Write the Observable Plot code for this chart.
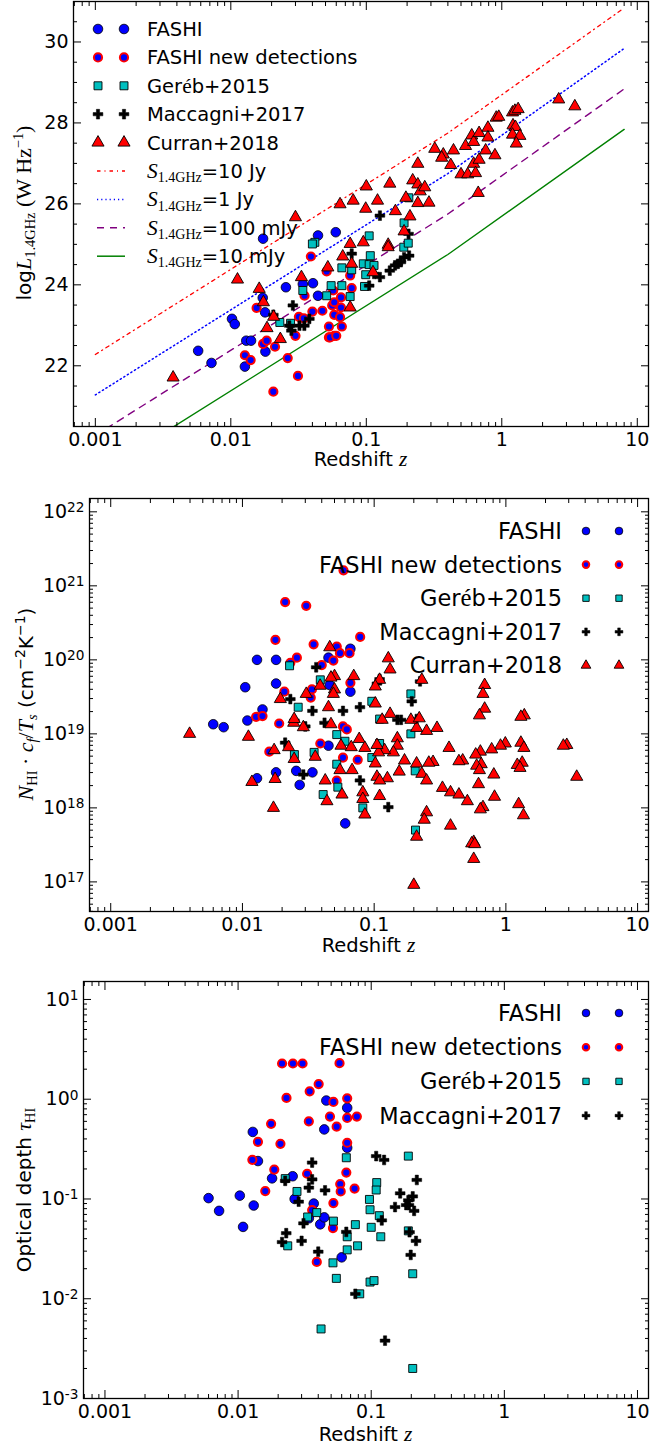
<!DOCTYPE html>
<html><head><meta charset="utf-8">
<script src="https://cdn.jsdelivr.net/npm/d3@7"></script>
<script src="https://cdn.jsdelivr.net/npm/@observablehq/plot@0.6"></script>
<style>body{margin:0;background:#fff}#root svg{display:block;overflow:visible}text{white-space:pre}</style>
</head><body><div id="root"></div>
<script>
// ---------- axis tick values / labels ----------
const xMajor = [0.001, 0.01, 0.1, 1, 10];
const xMajorLabels = ["0.001", "0.01", "0.1", "1", "10"];
const p1YMajor = [22, 24, 26, 28, 30];

// ---------- panel 1 : log L1.4GHz vs z ----------
const p1Fashi = [[0.00574,22.37],[0.0072,22.07],[0.0127,21.98],[0.0102,23.16],[0.0107,23.03],[0.013,22.62],[0.0141,22.62],[0.018,22.35],[0.0172,23.68],[0.0179,23.32],[0.0255,23.94],[0.034,24.02],[0.0404,24.04],[0.044,23.73],[0.0173,25.14],[0.044,25.22],[0.0595,25.30]];
const p1FashiNew = [[0.0206,21.36],[0.0313,21.75],[0.0263,22.19],[0.0212,22.47],[0.0127,22.26],[0.014,22.14],[0.0173,22.54],[0.0184,22.62],[0.0155,23.43],[0.039,24.70],[0.030,22.74],[0.0318,23.21],[0.0346,23.17],[0.040,23.34],[0.0474,23.36],[0.053,22.97],[0.053,22.70],[0.058,22.74],[0.051,24.33],[0.056,23.49],[0.058,23.26],[0.057,23.86],[0.054,22.70],[0.06,22.74],[0.066,22.97],[0.064,23.20],[0.065,23.44],[0.058,23.57],[0.065,23.69],[0.076,24.23],[0.078,23.92],[0.035,23.73]];
const p1Gereb = [[0.023,23.07],[0.0276,23.05],[0.051,23.73],[0.055,23.98],[0.034,23.86],[0.0417,25.05],[0.040,25.01],[0.066,24.42],[0.066,23.98],[0.076,23.71],[0.078,24.37],[0.095,24.52],[0.105,24.5],[0.114,24.48],[0.107,24.72],[0.099,24.25],[0.097,23.96],[0.189,24.93],[0.204,25.03],[0.206,26.15],[0.19,25.53],[0.105,25.21]];
const p1Macc = [[0.126,25.71],[0.205,25.26],[0.207,24.72],[0.19,24.68],[0.18,24.56],[0.171,24.52],[0.163,24.48],[0.149,24.35],[0.126,24.19],[0.105,23.98],[0.114,24.27],[0.078,24.77],[0.0206,23.26],[0.0287,23.49],[0.0321,22.99],[0.0349,22.99],[0.038,23.16],[0.028,22.87],[0.027,22.99]];
const p1Curran = [[0.00375,21.71],[0.0112,24.13],[0.0162,23.90],[0.0174,23.57],[0.0185,22.93],[0.0207,23.21],[0.0232,22.66],[0.030,25.67],[0.0332,24.19],[0.052,24.43],[0.064,25.99],[0.076,25.01],[0.080,26.08],[0.095,25.05],[0.099,25.88],[0.1,26.43],[0.121,26.08],[0.145,24.99],[0.149,26.50],[0.164,25.82],[0.19,25.32],[0.196,26.15],[0.21,25.69],[0.22,26.58],[0.24,26.48],[0.25,26.31],[0.27,26.41],[0.24,26.02],[0.29,26.03],[0.24,26.99],[0.32,27.36],[0.37,27.22],[0.36,27.14],[0.42,26.96],[0.44,27.32],[0.50,26.73],[0.54,27.43],[0.56,26.73],[0.60,27.69],[0.62,27.53],[0.62,26.99],[0.64,26.76],[0.67,26.27],[0.68,27.75],[0.68,27.09],[0.76,27.32],[0.79,27.88],[0.79,27.64],[0.89,27.20],[0.91,28.13],[0.95,28.15],[1.20,28.26],[1.25,28.30],[1.32,28.34],[1.21,27.94],[1.26,27.90],[1.20,27.71],[1.36,27.68],[1.28,27.49],[2.63,28.58],[3.46,28.41],[0.145,24.93],[0.067,24.70],[0.078,24.52],[0.076,23.44],[0.112,24.31]];

// flux-limit curves
const lineZ = [0.001, 0.4, 8];
const l10Jy = [22.28, 27.75, 30.84];
const l1Jy = [21.28, 26.75, 29.84];
const l100mJy = [20.28, 25.75, 28.84];
const l10mJy = [19.28, 24.75, 27.84];

// ---------- panel 2 : log N_HI c_f/T_s vs z ----------
const p2Fashi = [[0.0129,20.0],[0.018,20.0],[0.0105,19.63],[0.018,19.68],[0.0142,19.33],[0.0109,19.18],[0.0060,19.13],[0.0072,19.09],[0.045,20.03],[0.046,19.66],[0.0129,18.40],[0.018,18.48],[0.0256,18.50],[0.0272,18.31],[0.034,18.48],[0.045,18.84],[0.0603,17.79],[0.066,20.15],[0.066,19.57]];
const p2FashiNew = [[0.0211,20.78],[0.0305,20.73],[0.0178,20.27],[0.0347,20.21],[0.0259,20.03],[0.0231,19.96],[0.040,19.93],[0.049,19.99],[0.0208,19.57],[0.0337,19.60],[0.033,19.49],[0.052,20.18],[0.0127,19.23],[0.0142,19.24],[0.019,19.14],[0.0585,21.21],[0.0783,20.31],[0.055,20.09],[0.065,20.09],[0.066,19.69],[0.016,18.76],[0.039,18.87],[0.052,18.37],[0.058,18.68],[0.075,18.65],[0.058,19.10],[0.062,19.06]];
const p2Gereb = [[0.0228,19.92],[0.039,19.73],[0.0265,19.36],[0.19,19.54],[0.096,19.44],[0.11,19.2],[0.0248,18.72],[0.035,18.75],[0.041,18.18],[0.052,18.99],[0.052,18.59],[0.053,18.28],[0.082,18.0],[0.205,18.5],[0.206,17.70],[0.19,19.0],[0.11,18.87],[0.096,18.68],[0.06,18.9]];
const p2Macc = [[0.0363,19.90],[0.0231,19.47],[0.034,19.31],[0.0248,19.18],[0.11,19.74],[0.105,19.68],[0.223,19.71],[0.193,19.44],[0.078,19.36],[0.058,19.31],[0.15,19.19],[0.16,19.19],[0.21,19.2],[0.0211,18.88],[0.029,18.45],[0.078,18.37],[0.128,18.01],[0.03,19.1],[0.042,19.15]];
const p2Curran = [[2.90,18.85],[2.73,18.84],[3.45,18.42],[1.30,18.88],[1.37,18.81],[1.33,18.61],[1.22,18.58],[1.28,18.54],[1.25,18.05],[1.36,17.90],[0.99,18.87],[0.91,18.84],[0.78,18.79],[0.64,18.76],[0.59,18.72],[0.65,18.59],[0.60,18.57],[0.63,18.51],[0.81,18.45],[0.62,18.32],[0.82,18.15],[0.67,18.01],[0.64,17.98],[0.57,17.54],[0.55,17.52],[0.58,17.51],[0.57,17.31],[0.47,18.64],[0.44,18.63],[0.37,18.81],[0.33,18.27],[0.38,18.21],[0.44,18.18],[0.51,18.09],[0.38,17.76],[0.25,17.94],[0.24,17.84],[0.21,17.61],[0.20,16.96],[0.28,18.62],[0.26,18.61],[0.30,19.08],[0.25,19.04],[0.21,18.60],[0.23,18.46],[0.25,18.37],[0.21,19.08],[0.17,18.64],[0.155,18.49],[0.15,18.94],[0.15,18.84],[0.14,18.75],[0.126,18.40],[0.12,18.78],[0.108,18.75],[0.105,18.85],[0.102,18.60],[0.105,18.42],[0.11,18.37],[0.11,18.16],[0.082,18.21],[0.082,18.12],[0.085,17.91],[0.057,18.18],[0.055,18.51],[0.068,18.51],[0.056,18.84],[0.067,18.82],[0.077,18.93],[0.085,18.81],[0.128,20.02],[0.132,19.87],[0.23,19.73],[0.11,19.73],[0.102,19.64],[0.69,19.66],[0.67,19.54],[0.69,19.34],[0.63,19.25],[1.38,19.25],[1.30,19.23],[0.070,19.78],[0.102,19.41],[0.132,19.27],[0.115,19.19],[0.19,19.19],[0.22,19.21],[0.05,19.78],[0.05,19.6],[0.00397,19.00],[0.0111,18.96],[0.0118,18.35],[0.0172,18.0],[0.0177,18.39],[0.0174,18.78],[0.0224,18.82],[0.0247,18.66],[0.0245,19.15],[0.029,19.09],[0.0357,18.69],[0.0425,18.37],[0.0438,18.09],[0.047,19.13],[0.0194,19.47],[0.0247,19.2],[0.0389,19.65],[0.0305,19.54],[0.046,20.17],[0.047,19.76],[0.049,19.54],[0.045,19.36]];

// ---------- panel 3 : optical depth vs z ----------
const p3Fashi = [[0.046,0.97],[0.0444,0.498],[0.0129,0.47],[0.0141,0.24],[0.018,0.161],[0.0257,0.169],[0.0060,0.102],[0.0103,0.108],[0.0131,0.086],[0.0266,0.10],[0.037,0.09],[0.0072,0.076],[0.066,0.82],[0.066,0.326],[0.0109,0.0525],[0.034,0.064],[0.0414,0.0557],[0.0444,0.0654],[0.060,0.026]];
const p3FashiNew = [[0.0214,2.28],[0.0258,2.28],[0.0305,2.28],[0.0578,2.3],[0.0403,1.42],[0.0345,1.20],[0.0231,1.03],[0.052,0.94],[0.066,1.02],[0.049,0.67],[0.066,0.65],[0.078,0.67],[0.034,0.60],[0.055,0.53],[0.0177,0.567],[0.0141,0.374],[0.0208,0.357],[0.0128,0.247],[0.0187,0.197],[0.016,0.12],[0.033,0.179],[0.0585,0.141],[0.066,0.366],[0.065,0.184],[0.059,0.119],[0.075,0.127],[0.052,0.091],[0.036,0.0774],[0.039,0.0234],[0.0516,0.0511]];
const p3Gereb = [[0.0226,0.16],[0.0277,0.119],[0.065,0.259],[0.19,0.269],[0.11,0.146],[0.109,0.123],[0.097,0.099],[0.098,0.078],[0.039,0.073],[0.0333,0.066],[0.0236,0.0339],[0.0516,0.0229],[0.0547,0.016],[0.042,0.00498],[0.052,0.06],[0.066,0.0418],[0.066,0.0309],[0.076,0.0553],[0.079,0.0339],[0.082,0.0112],[0.115,0.068],[0.10,0.052],[0.118,0.0418],[0.098,0.0147],[0.105,0.0152],[0.19,0.0479],[0.205,0.0178],[0.205,0.0020]];
const p3Macc = [[0.036,0.232],[0.036,0.157],[0.034,0.13],[0.045,0.122],[0.0285,0.094],[0.0226,0.152],[0.109,0.269],[0.125,0.246],[0.22,0.155],[0.165,0.114],[0.205,0.106],[0.19,0.097],[0.192,0.087],[0.151,0.083],[0.023,0.0454],[0.0214,0.037],[0.030,0.038],[0.031,0.057],[0.040,0.0296],[0.065,0.0468],[0.076,0.0112],[0.127,0.0038],[0.12,0.061],[0.183,0.087],[0.21,0.076],[0.194,0.0464],[0.217,0.038],[0.198,0.0275]];

// ---------- styling ----------
const SANS = "'DejaVu Sans', sans-serif";
const SERIF = "'Liberation Serif', 'DejaVu Serif', serif";
const W = 671, H = 482;
const TICK_FS = 19, LABEL_FS = 19.5;
const xDomain = [0.00069, 12.1];
const STY = {
  fashi: {symbol: "circle", fill: "#0000ff", stroke: "#000", strokeWidth: 0.8, r: 4.8},
  fnew: {symbol: "circle", fill: "#0000ff", stroke: "#ff0000", strokeWidth: 2, r: 4.1},
  gereb: {symbol: "square", fill: "#00bfbf", stroke: "#000", strokeWidth: 0.9, r: 4.5},
  macc: {symbol: "cross", fill: "#000", stroke: "#000", strokeWidth: 0.5, r: 4.1},
  curran: {symbol: "triangle", fill: "#ff0000", stroke: "#000", strokeWidth: 0.9, r: 4.5}
};
function minorLog(e0, e1, dom) {
  const out = [];
  for (let e = e0; e <= e1; e++) for (let m = 2; m <= 9; m++) {
    const v = +(m * Math.pow(10, e)).toPrecision(6);
    if (v >= dom[0] && v <= dom[1]) out.push(v);
  }
  return out;
}
const xMinor = minorLog(-4, 1, xDomain);
const fmtX = d => xMajorLabels[xMajor.indexOf(d)] ?? "";
const fmtPow = d => "10^" + Math.round(Math.log10(d));

function axes(yMajor, yMinor, yFmt) {
  const c = {label: null, fontSize: TICK_FS};
  const blank = () => "";
  return [
    Plot.axisX({anchor: "bottom", ticks: xMajor, tickSize: -8, tickPadding: 14, tickFormat: fmtX, ...c}),
    Plot.axisX({anchor: "bottom", ticks: xMinor, tickSize: -4, tickFormat: blank, ...c}),
    Plot.axisX({anchor: "top", ticks: xMajor, tickSize: -8, tickFormat: blank, ...c}),
    Plot.axisX({anchor: "top", ticks: xMinor, tickSize: -4, tickFormat: blank, ...c}),
    Plot.axisY({anchor: "left", ticks: yMajor, tickSize: -8, tickPadding: 13, tickFormat: yFmt, ...c}),
    Plot.axisY({anchor: "left", ticks: yMinor, tickSize: -4, tickFormat: blank, ...c}),
    Plot.axisY({anchor: "right", ticks: yMajor, tickSize: -8, tickFormat: blank, ...c}),
    Plot.axisY({anchor: "right", ticks: yMinor, tickSize: -4, tickFormat: blank, ...c})
  ];
}
function dots(arr, sty, yf) {
  return Plot.dot(arr, {x: d => d[0], y: yf || (d => d[1]), ...sty});
}
function supify(svg) {
  d3.select(svg).selectAll("text").each(function () {
    const t = this.textContent;
    if (t.startsWith("10^")) {
      const ex = t.slice(3);
      const s = d3.select(this); s.text(null);
      s.append("tspan").text("10");
      s.append("tspan").attr("dy", "-0.42em").attr("font-size", "0.72em").text(ex);
    }
  });
}
// rich text: segs [{t, serif, it, sub, sup}]
function rich(sel, segs, size) {
  let cur = 0;
  for (const s of segs) {
    const target = s.sub ? size * 0.22 : s.sup ? -size * 0.42 : 0;
    const ts = sel.append("tspan").text(s.t)
      .attr("font-family", s.serif ? SERIF : SANS)
      .attr("font-style", s.it ? "italic" : "normal")
      .attr("font-size", (s.sub || s.sup) ? size * (s.serif ? 0.72 : 0.7) : size * (s.serif ? 1.1 : 1));
    if (target !== cur) { ts.attr("dy", target - cur); cur = target; }
  }
}
function addText(svg, x, y, segs, size, opts = {}) {
  const t = d3.select(svg).append("text").attr("fill", "#000")
    .attr("text-anchor", opts.anchor || "start");
  if (opts.rotate) t.attr("transform", `translate(${x},${y}) rotate(-90)`);
  else t.attr("x", x).attr("y", y);
  rich(t, segs, size);
  return t;
}
function symbolPath(sty, k) {
  const map = {circle: d3.symbolCircle, square: d3.symbolSquare, cross: d3.symbolCross, triangle: d3.symbolTriangle};
  return d3.symbol().type(map[sty.symbol]).size(Math.PI * (sty.r * k) ** 2)();
}
function legendMarker(svg, sty, x, y, k) {
  d3.select(svg).append("path").attr("d", symbolPath(sty, k))
    .attr("transform", `translate(${x},${y})`)
    .attr("fill", sty.fill).attr("stroke", sty.stroke).attr("stroke-width", sty.strokeWidth);
}
const xLabelSegs = [{t: "Redshift "}, {t: "z", serif: true, it: true}];

const root = document.getElementById("root");

// ================= PANEL 1 =================
{
  const ML = 73, MR = 23, MT = 1, MB = 56;
  const yDom = [20.5, 31];
  const yMinor = d3.range(21, 31.01, 0.5).filter(v => v % 2 !== 0 || v < 22);
  const lineRows = (vals) => lineZ.map((z, i) => [z, vals[i]]);
  const svg = Plot.plot({
    width: W, height: H, marginLeft: ML, marginRight: MR, marginTop: MT, marginBottom: MB,
    style: {fontFamily: SANS, fontSize: TICK_FS + "px", color: "#000", background: "#fff"},
    x: {type: "log", domain: xDomain},
    y: {domain: yDom},
    marks: [
      Plot.line(lineRows(l10Jy), {x: d => d[0], y: d => d[1], stroke: "#ff0000", strokeWidth: 1.3, strokeDasharray: "3.5,4,1,4", clip: true}),
      Plot.line(lineRows(l1Jy), {x: d => d[0], y: d => d[1], stroke: "#0000ff", strokeWidth: 1.5, strokeDasharray: "1.2,3", clip: true}),
      Plot.line(lineRows(l100mJy), {x: d => d[0], y: d => d[1], stroke: "#800080", strokeWidth: 1.4, strokeDasharray: "7,6", clip: true}),
      Plot.line(lineRows(l10mJy), {x: d => d[0], y: d => d[1], stroke: "#008000", strokeWidth: 1.4, clip: true}),
      dots(p1Fashi, STY.fashi),
      dots(p1FashiNew, STY.fnew),
      dots(p1Gereb, STY.gereb),
      dots(p1Macc, STY.macc),
      dots(p1Curran, STY.curran),
      ...axes(p1YMajor, yMinor, d => String(d)),
      Plot.frame({stroke: "#000", strokeWidth: 1.3})
    ]
  });
  addText(svg, (ML + W - MR) / 2, 466, xLabelSegs, LABEL_FS, {anchor: "middle"});
  addText(svg, 31, 213, [
    {t: "log"}, {t: "L", serif: true, it: true}, {t: "1.4GHz", serif: true, sub: true},
    {t: " (W Hz", serif: true}, {t: "−1", serif: true, sup: true}, {t: ")", serif: true}
  ], 20, {anchor: "middle", rotate: true});
  const items = [
    {sty: STY.fashi, segs: [{t: "FASHI"}]},
    {sty: STY.fnew, segs: [{t: "FASHI new detections"}]},
    {sty: STY.gereb, segs: [{t: "Ger"}, {t: "é", serif: true}, {t: "b+2015"}]},
    {sty: STY.macc, segs: [{t: "Maccagni+2017"}]},
    {sty: STY.curran, segs: [{t: "Curran+2018"}]},
    {line: {stroke: "#ff0000", dash: "3.5,4,1,4"}, segs: [{t: "S", serif: true, it: true}, {t: "1.4GHz", serif: true, sub: true}, {t: "=10 Jy"}]},
    {line: {stroke: "#0000ff", dash: "1.2,3"}, segs: [{t: "S", serif: true, it: true}, {t: "1.4GHz", serif: true, sub: true}, {t: "=1 Jy"}]},
    {line: {stroke: "#800080", dash: "7,6"}, segs: [{t: "S", serif: true, it: true}, {t: "1.4GHz", serif: true, sub: true}, {t: "=100 mJy"}]},
    {line: {stroke: "#008000", dash: null}, segs: [{t: "S", serif: true, it: true}, {t: "1.4GHz", serif: true, sub: true}, {t: "=10 mJy"}]}
  ];
  items.forEach((it, i) => {
    const y = 29 + 28.4 * i;
    if (it.sty) {
      legendMarker(svg, it.sty, 98, y, 1);
      legendMarker(svg, it.sty, 124, y, 1);
    } else {
      const l = d3.select(svg).append("line").attr("x1", 97).attr("x2", 125).attr("y1", y).attr("y2", y)
        .attr("stroke", it.line.stroke).attr("stroke-width", 1.5);
      if (it.line.dash) l.attr("stroke-dasharray", it.line.dash);
    }
    addText(svg, 147, y + 7, it.segs, 19.5);
  });
  root.appendChild(svg);
}

// ================= PANEL 2 =================
{
  const ML = 89, MR = 23, MT = 16, MB = 53;
  const yDom = [Math.pow(10, 16.6), Math.pow(10, 22.18)];
  const yMajor = [1e17, 1e18, 1e19, 1e20, 1e21, 1e22];
  const yMinor = minorLog(16, 21, yDom);
  const yf = d => Math.pow(10, d[1]);
  const svg = Plot.plot({
    width: W, height: H, marginLeft: ML, marginRight: MR, marginTop: MT, marginBottom: MB,
    style: {fontFamily: SANS, fontSize: TICK_FS + "px", color: "#000", background: "#fff"},
    x: {type: "log", domain: xDomain},
    y: {type: "log", domain: yDom},
    marks: [
      dots(p2Fashi, STY.fashi, yf),
      dots(p2FashiNew, STY.fnew, yf),
      dots(p2Gereb, STY.gereb, yf),
      dots(p2Macc, STY.macc, yf),
      dots(p2Curran, STY.curran, yf),
      ...axes(yMajor, yMinor, fmtPow),
      Plot.frame({stroke: "#000", strokeWidth: 1.3})
    ]
  });
  supify(svg);
  addText(svg, (ML + W - MR) / 2, 470, xLabelSegs, LABEL_FS, {anchor: "middle"});
  addText(svg, 33, 222, [
    {t: "N", serif: true, it: true}, {t: "HI", serif: true, sub: true}, {t: " · ", serif: true},
    {t: "c", serif: true, it: true}, {t: "f", serif: true, it: true, sub: true}, {t: "/", serif: true},
    {t: "T", serif: true, it: true}, {t: "s", serif: true, it: true, sub: true},
    {t: " (cm"}, {t: "−2", sup: true}, {t: "K"}, {t: "−1", sup: true}, {t: ")"}
  ], 20, {anchor: "middle", rotate: true});
  const items = [
    {sty: STY.fashi, segs: [{t: "FASHI"}]},
    {sty: STY.fnew, segs: [{t: "FASHI new detections"}]},
    {sty: STY.gereb, segs: [{t: "Ger"}, {t: "é", serif: true}, {t: "b+2015"}]},
    {sty: STY.macc, segs: [{t: "Maccagni+2017"}]},
    {sty: STY.curran, segs: [{t: "Curran+2018"}]}
  ];
  items.forEach((it, i) => {
    const y = 49 + 33.6 * i;
    legendMarker(svg, it.sty, 586, y, 0.8);
    legendMarker(svg, it.sty, 619, y, 0.8);
    addText(svg, 562, y + 8, it.segs, 22.5, {anchor: "end"});
  });
  root.appendChild(svg);
}

// ================= PANEL 3 =================
{
  const ML = 83, MR = 23, MT = 17, MB = 48;
  const yDom = [1e-3, Math.pow(10, 1.18)];
  const yMajor = [1e-3, 1e-2, 1e-1, 1, 10];
  const yMinor = minorLog(-3, 1, yDom);
  const svg = Plot.plot({
    width: W, height: H, marginLeft: ML, marginRight: MR, marginTop: MT, marginBottom: MB,
    style: {fontFamily: SANS, fontSize: TICK_FS + "px", color: "#000", background: "#fff"},
    x: {type: "log", domain: xDomain},
    y: {type: "log", domain: yDom},
    marks: [
      dots(p3Fashi, STY.fashi),
      dots(p3FashiNew, STY.fnew),
      dots(p3Gereb, STY.gereb),
      dots(p3Macc, STY.macc),
      ...axes(yMajor, yMinor, fmtPow),
      Plot.frame({stroke: "#000", strokeWidth: 1.3})
    ]
  });
  supify(svg);
  addText(svg, (ML + W - MR) / 2, 477, xLabelSegs, LABEL_FS, {anchor: "middle"});
  addText(svg, 31, 226, [
    {t: "Optical depth "}, {t: "τ", serif: true, it: true}, {t: "HI", serif: true, sub: true}
  ], 20, {anchor: "middle", rotate: true});
  const items = [
    {sty: STY.fashi, segs: [{t: "FASHI"}]},
    {sty: STY.fnew, segs: [{t: "FASHI new detections"}]},
    {sty: STY.gereb, segs: [{t: "Ger"}, {t: "é", serif: true}, {t: "b+2015"}]},
    {sty: STY.macc, segs: [{t: "Maccagni+2017"}]}
  ];
  items.forEach((it, i) => {
    const y = 49 + 34.2 * i;
    legendMarker(svg, it.sty, 586, y, 0.8);
    legendMarker(svg, it.sty, 619, y, 0.8);
    addText(svg, 562, y + 8, it.segs, 22.5, {anchor: "end"});
  });
  root.appendChild(svg);
}
</script></body></html>
